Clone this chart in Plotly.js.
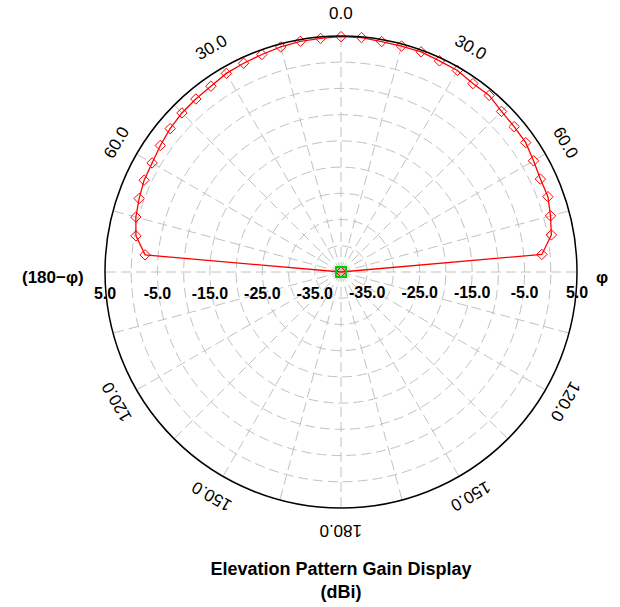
<!DOCTYPE html>
<html>
<head>
<meta charset="utf-8">
<script src="https://cdn.plot.ly/plotly-3.0.1.min.js"></script>
<style>html,body{margin:0;padding:0;background:#fff;}#chart{width:620px;height:607px;}</style>
</head>
<body>
<div id="chart"></div>
<script>
// Elevation angle (deg, clockwise from top) and gain (dBi)
const thetaDeg = [270,275,280,285,290,295,300,305,310,315,320,325,330,335,340,345,350,355,
                  0,5,10,15,20,25,30,35,40,45,50,55,60,65,70,75,80,85,90];
const gainDbi = [-40,-2.5,-0.3,0.5,0.96,1.42,1.59,2.05,2.53,2.89,3.06,3.25,3.73,3.92,4.13,4.43,4.66,4.7,
                 4.87,4.87,4.62,4.6,4.68,4.41,4.38,3.86,3.96,3.29,3.1,3.0,2.39,1.95,1.99,1.36,0.73,-1.55,-40];
const originTheta = [0];
const originGain = [-40];

const radialRange = [-40, 5];
const ringVals = [-35,-30,-25,-20,-15,-10,-5,0,5];
const ringText = ['-35.0','','-25.0','','-15.0','','-5.0','','5.0'];
const spokeVals = [0,15,30,45,60,75,90,105,120,135,150,165,180,195,210,225,240,255,270,285,300,315,330,345];
const angleLabelVals = [0,30,60,120,150,180,210,240,300,330];
const angleLabelText = ['0.0','30.0','60.0','120.0','150.0','180.0','150.0','120.0','60.0','30.0'];
const rightSideLabel = 'φ';
const leftSideLabel = '(180−φ)';

const W = 620, H = 607;
const M = {l:105, r:43, t:36, b:99};
const plotPx = 472; // square plot area
const labelR = 259;
const gridColor = '#c2c2c2';
const FAM = 'Liberation Sans, Arial, sans-serif';

const annotations = angleLabelVals.map((a, i) => {
  const rad = a * Math.PI / 180;
  const ta = a > 180 ? a - 360 : a;
  return {
    xref: 'paper', yref: 'paper',
    x: 0.5 + labelR * Math.sin(rad) / plotPx,
    y: 0.5 + labelR * Math.cos(rad) / plotPx,
    text: angleLabelText[i], showarrow: false,
    textangle: ta, xanchor: 'center', yanchor: 'middle',
    font: {family: FAM, size: 17, color: '#000'}
  };
});
annotations.push({
  xref: 'paper', yref: 'paper', x: 0.5 + 253 / plotPx, y: 0.5 - 5 / plotPx,
  text: rightSideLabel, showarrow: false, xanchor: 'left', yanchor: 'middle', textangle: 0,
  font: {family: FAM, size: 17, color: '#000', weight: 'bold'}
});
annotations.push({
  xref: 'paper', yref: 'paper', x: 0.5 - 255 / plotPx, y: 0.5 - 5 / plotPx,
  text: leftSideLabel, showarrow: false, xanchor: 'right', yanchor: 'middle', textangle: 0,
  font: {family: FAM, size: 17, color: '#000', weight: 'bold'}
});

const tickFont = {family: FAM, size: 16, color: '#000', weight: 'bold'};

const data = [
  {
    type: 'scatterpolar', subplot: 'polar',
    theta: thetaDeg, r: gainDbi, mode: 'lines+markers',
    line: {color: '#ff0000', width: 1.3},
    marker: {symbol: 'diamond-open', size: 8, color: '#ff0000', line: {width: 1}},
    hoverinfo: 'skip'
  },
  {
    type: 'scatterpolar', subplot: 'polar',
    theta: originTheta, r: originGain, mode: 'markers',
    marker: {symbol: 'square-open', size: 10, color: '#00cc00', line: {width: 2}},
    hoverinfo: 'skip'
  },
  {
    type: 'scatterpolar', subplot: 'polar2',
    theta: [], r: [], mode: 'markers', hoverinfo: 'skip'
  }
];

const layout = {
  width: W, height: H,
  margin: M,
  paper_bgcolor: '#fff',
  showlegend: false,
  font: {family: FAM, color: '#000'},
  title: {
    text: '<b>Elevation Pattern Gain Display<br>(dBi)</b>',
    font: {family: FAM, size: 18, color: '#000'},
    xref: 'paper', x: 0.5, xanchor: 'center',
    yref: 'container', y: (H - 575) / H, yanchor: 'middle'
  },
  polar: {
    domain: {x: [0, 1], y: [0, 1]},
    bgcolor: '#fff',
    angularaxis: {
      rotation: 90, direction: 'clockwise',
      tickmode: 'array', tickvals: spokeVals, showticklabels: false, ticks: '',
      showline: true, linecolor: '#000', linewidth: 1.5,
      showgrid: true, gridcolor: gridColor, gridwidth: 1, griddash: '10px,5px'
    },
    radialaxis: {
      range: radialRange, angle: 0, side: 'clockwise',
      tickmode: 'array', tickvals: ringVals, ticktext: ringText,
      ticks: 'outside', ticklen: 6, tickcolor: 'rgba(0,0,0,0)',
      tickfont: tickFont,
      showline: false,
      showgrid: true, gridcolor: gridColor, gridwidth: 1, griddash: '10px,5px'
    }
  },
  polar2: {
    domain: {x: [0, 1], y: [0, 1]},
    bgcolor: 'rgba(0,0,0,0)',
    angularaxis: {visible: false, showgrid: false, showline: false, showticklabels: false, ticks: ''},
    radialaxis: {
      range: radialRange, angle: 180, side: 'counterclockwise',
      tickmode: 'array', tickvals: ringVals, ticktext: ringText,
      ticks: 'outside', ticklen: 4, tickcolor: 'rgba(0,0,0,0)',
      tickfont: tickFont, tickangle: 180,
      showline: false, showgrid: false
    }
  },
  annotations: annotations
};

Plotly.newPlot('chart', data, layout, {displayModeBar: false, staticPlot: true});
</script>
</body>
</html>
